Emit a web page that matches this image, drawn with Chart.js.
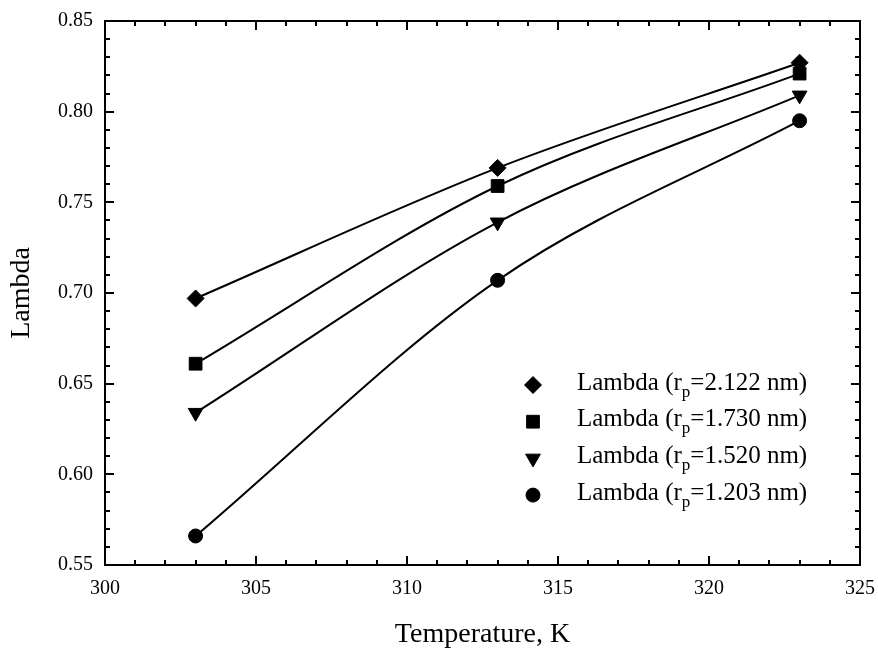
<!DOCTYPE html>
<html>
<head>
<meta charset="utf-8">
<title>Lambda vs Temperature</title>
<script src="https://cdn.jsdelivr.net/npm/chart.js@4.4.1/dist/chart.umd.min.js"></script>
<style>
    html, body { margin: 0; padding: 0; background: #fff; }
    #wrap { width: 878px; height: 651px; }
</style>
</head>
<body>
<div id="wrap"><canvas id="lambdaChart" width="878" height="651"></canvas></div>
<script>
// values
const temperatures = [303, 313, 323];
const lambda2122 = [0.697, 0.769, 0.827];
const lambda1730 = [0.661, 0.759, 0.821];
const lambda1520 = [0.634, 0.739, 0.809];
const lambda1203 = [0.566, 0.707, 0.795];
const poreRadii = ['2.122', '1.730', '1.520', '1.203'];

const xTicks = [300, 305, 310, 315, 320, 325];
const yTicks = [0.55, 0.60, 0.65, 0.70, 0.75, 0.80, 0.85];
const xMinorStep = 1;
const yMinorStep = 0.01;

const serif = '"Liberation Serif", "Times New Roman", serif';
Chart.defaults.font.family = serif;
Chart.defaults.color = '#000';

function toPoints(xs, ys) {
    return xs.map(function(x, i) { return { x: x, y: ys[i] }; });
}

// marker look per series
const markers = [
    { style: 'rectRot', rotation: 0, radius: 8.5 },
    { style: 'rect', rotation: 0, radius: 9 },
    { style: 'triangle', rotation: 180, radius: 8.5 },
    { style: 'circle', rotation: 0, radius: 7 }
];
const seriesValues = [lambda2122, lambda1730, lambda1520, lambda1203];

const datasets = seriesValues.map(function(vals, i) {
    return {
        label: 'Lambda (rp=' + poreRadii[i] + ' nm)',
        data: toPoints(temperatures, vals),
        borderColor: '#000',
        backgroundColor: '#000',
        borderWidth: 2,
        pointStyle: markers[i].style,
        pointRotation: markers[i].rotation,
        pointRadius: markers[i].radius,
        pointBorderWidth: 1,
        pointBackgroundColor: '#000',
        pointBorderColor: '#000',
        cubicInterpolationMode: 'monotone',
        fill: false
    };
});

// box + inward ticks on all four sides
const framePlugin = {
    id: 'frame',
    afterDatasetsDraw: function(chart) {
        const ctx = chart.ctx;
        const a = chart.chartArea;
        const xs = chart.scales.x, ys = chart.scales.y;
        ctx.save();
        ctx.strokeStyle = '#000';
        ctx.lineWidth = 2;
        ctx.strokeRect(a.left, a.top, a.right - a.left, a.bottom - a.top);
        ctx.beginPath();
        for (let v = xs.min; v <= xs.max + 1e-9; v += xMinorStep) {
            const px = Math.round(xs.getPixelForValue(v));
            const major = xTicks.some(function(t) { return Math.abs(t - v) < 1e-6; });
            const len = major ? 9 : 5;
            ctx.moveTo(px, a.bottom); ctx.lineTo(px, a.bottom - len);
            ctx.moveTo(px, a.top); ctx.lineTo(px, a.top + len);
        }
        for (let v = ys.min; v <= ys.max + 1e-9; v += yMinorStep) {
            const py = Math.round(ys.getPixelForValue(v));
            const major = yTicks.some(function(t) { return Math.abs(t - v) < 1e-6; });
            const len = major ? 9 : 5;
            ctx.moveTo(a.left, py); ctx.lineTo(a.left + len, py);
            ctx.moveTo(a.right, py); ctx.lineTo(a.right - len, py);
        }
        ctx.stroke();
        ctx.restore();
    }
};

// legend with the subscript p
const legendPlugin = {
    id: 'subLegend',
    afterDraw: function(chart) {
        const ctx = chart.ctx;
        const markX = 533, textX = 577, firstY = 385, rowH = 36.7;
        ctx.save();
        ctx.fillStyle = '#000';
        ctx.strokeStyle = '#000';
        ctx.lineWidth = 1;
        poreRadii.forEach(function(r, i) {
            const y = firstY + i * rowH;
            Chart.helpers.drawPoint(ctx, {
                pointStyle: markers[i].style,
                rotation: markers[i].rotation,
                radius: markers[i].radius,
                borderWidth: 1
            }, markX, y);
            const base = y + 4.5;
            ctx.textAlign = 'left';
            ctx.textBaseline = 'alphabetic';
            ctx.font = '25px ' + serif;
            let x = textX;
            ctx.fillText('Lambda (r', x, base);
            x += ctx.measureText('Lambda (r').width;
            ctx.font = '17px ' + serif;
            ctx.fillText('p', x, base + 7);
            x += ctx.measureText('p').width;
            ctx.font = '25px ' + serif;
            ctx.fillText('=' + r + ' nm)', x, base);
        });
        ctx.restore();
    }
};

const ctx = document.getElementById('lambdaChart');
const lambdaChart = new Chart(ctx, {
    type: 'line',
    data: { datasets: datasets },
    options: {
        responsive: false,
        animation: false,
        devicePixelRatio: 1,
        layout: { padding: { top: 21, right: 18, left: 0, bottom: 0 } },
        plugins: {
            legend: { display: false },
            tooltip: { enabled: false }
        },
        scales: {
            x: {
                type: 'linear',
                min: 300,
                max: 325,
                afterBuildTicks: function(scale) {
                    scale.ticks = xTicks.map(function(v) { return { value: v }; });
                },
                afterFit: function(scale) {
                    scale.height = 86;
                    scale.paddingLeft = 0;
                    scale.paddingRight = 0;
                },
                grid: { display: false, drawTicks: false },
                border: { display: false },
                ticks: {
                    font: { size: 20 },
                    padding: 12,
                    maxRotation: 0,
                    callback: function(v) { return v; }
                },
                title: {
                    display: true,
                    text: 'Temperature, K',
                    font: { size: 28 },
                    padding: { top: 0, bottom: 0 }
                }
            },
            y: {
                min: 0.55,
                max: 0.85,
                afterBuildTicks: function(scale) {
                    scale.ticks = yTicks.map(function(v) { return { value: v }; });
                },
                afterFit: function(scale) {
                    scale.width = 105;
                    scale.paddingTop = 0;
                    scale.paddingBottom = 0;
                },
                grid: { display: false, drawTicks: false },
                border: { display: false },
                ticks: {
                    font: { size: 20 },
                    padding: 12,
                    callback: function(v) { return v.toFixed(2); }
                },
                title: {
                    display: true,
                    text: 'Lambda',
                    font: { size: 28 },
                    padding: { top: 5, bottom: 0 }
                }
            }
        }
    },
    plugins: [framePlugin, legendPlugin]
});
</script>
</body>
</html>
